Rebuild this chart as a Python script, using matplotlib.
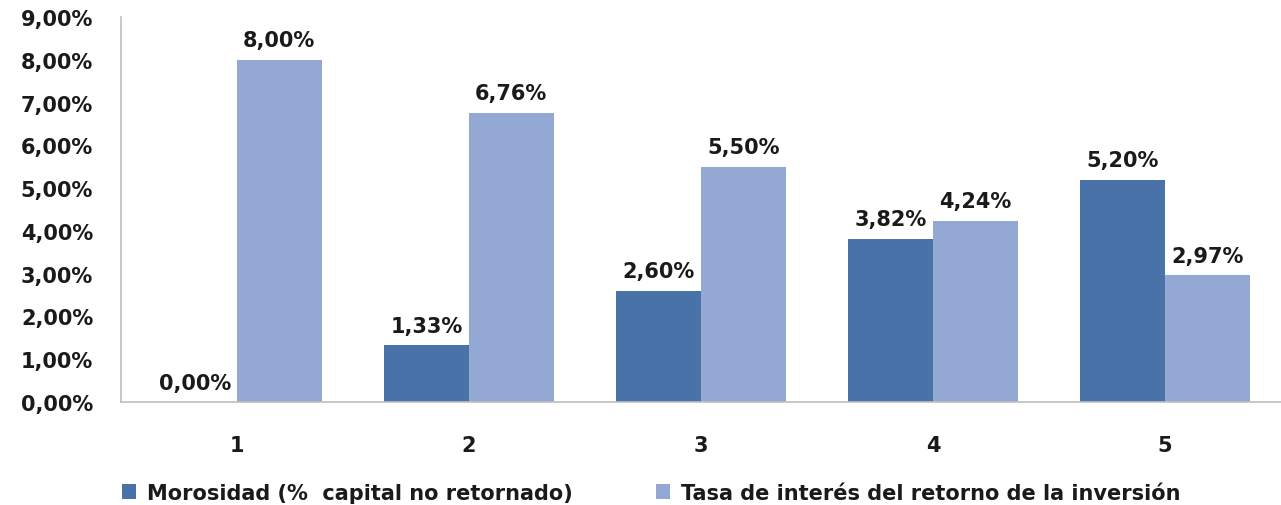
import matplotlib
matplotlib.use("Agg")
import matplotlib.pyplot as plt
import numpy as np

categories = ["1", "2", "3", "4", "5"]
morosidad = [0.00, 1.33, 2.60, 3.82, 5.20]
tasa = [8.00, 6.76, 5.50, 4.24, 2.97]
series_names = ["Morosidad (% \u00a0capital no retornado)", "Tasa de interés del retorno de la inversión"]
yticks = [0, 1, 2, 3, 4, 5, 6, 7, 8, 9]

dark = "#4872A8"
light = "#93A9D3"

def fmt(v):
    return f"{v:.2f}".replace(".", ",") + "%"

fig = plt.figure(figsize=(12.81, 5.06), dpi=100)
ax = fig.add_axes([121/1281, 1 - 403/506, 1160/1281, (403-18)/506])

x = np.arange(len(categories))
w = 0.365
b1 = ax.bar(x - w/2, morosidad, w, color=dark, label=series_names[0])
b2 = ax.bar(x + w/2, tasa, w, color=light, label=series_names[1])

fs = 15
for bars, vals in ((b1, morosidad), (b2, tasa)):
    for r, v in zip(bars, vals):
        ax.text(r.get_x() + r.get_width()/2, v + 0.22, fmt(v), ha="center", va="bottom",
                fontsize=fs, fontweight="bold", color="#1a1a1a")

ax.set_xlim(-0.5, len(categories) - 0.5)
ax.set_ylim(0, 9)
ax.set_yticks(yticks)
ax.set_yticklabels([fmt(v) for v in yticks], fontsize=fs, fontweight="bold", color="#1a1a1a")
ax.set_xticks(x)
ax.set_xticklabels(categories, fontsize=fs, fontweight="bold", color="#1a1a1a")
ax.tick_params(axis="both", length=0)
ax.tick_params(axis="x", pad=24)
ax.tick_params(axis="y", pad=20)
for s in ("top", "right"):
    ax.spines[s].set_visible(False)
for s in ("left", "bottom"):
    ax.spines[s].set_color("#BFBFBF")
    ax.spines[s].set_linewidth(1.2)

leg = fig.legend(handles=[b1, b2], labels=series_names, loc="center", bbox_to_anchor=(651/1281, 1 - 494/506),
                 ncol=2, frameon=False, handlelength=0.7, handleheight=0.7, handletextpad=0.5,
                 columnspacing=4.0, prop={"size": fs, "weight": "bold"})
for t in leg.get_texts():
    t.set_color("#1a1a1a")

fig.savefig("out.png", dpi=100)
